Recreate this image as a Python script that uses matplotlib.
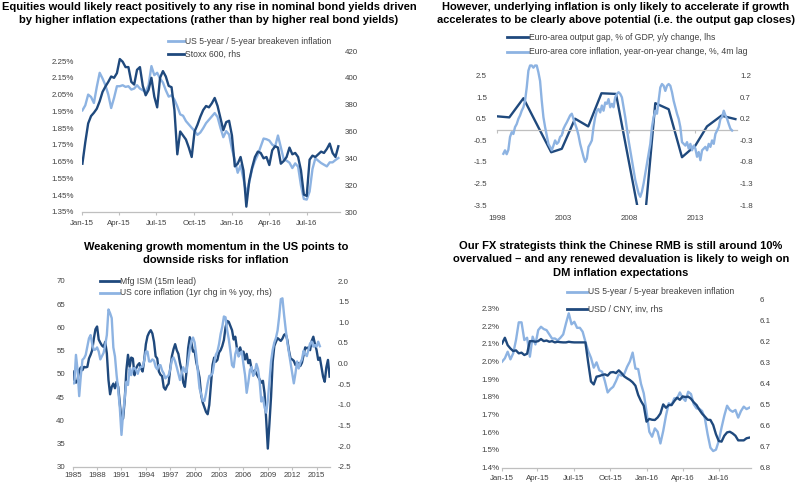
import numpy as np
import pandas as pd
import matplotlib

matplotlib.use("Agg")
import matplotlib.pyplot as plt
import matplotlib.dates as mdates
from matplotlib.lines import Line2D

# ---- data ----
# top-left: weekly, from 2 Jan 2015
stoxx600 = [336, 352, 366, 371.5, 374, 377, 382.5, 389.5, 393.5, 397,
            401, 400, 403.5, 414, 412, 408, 408, 397, 395, 406,
            408, 394, 387, 391, 400, 386, 378, 400, 405, 401,
            394, 393, 376, 343, 360, 357, 354, 348, 341, 360,
            365, 371, 376, 379, 378, 381, 385, 379, 370, 361,
            367, 368, 357, 334, 336, 341, 331, 304, 323, 333,
            341, 345, 344, 340, 341, 335, 346, 349, 348, 336,
            338, 341, 348, 343, 344, 341, 331, 313, 312, 339,
            342, 341, 343, 345, 344, 347, 351, 344, 341, 349]
us_5y5y_a = [1.956, 1.986, 2.05, 2.036, 2.0, 2.096, 2.18, 2.146, 2.106, 2.05,
             1.97, 2.03, 2.1, 2.1, 2.106, 2.096, 2.1, 2.08, 2.086, 2.106,
             2.086, 2.076, 2.066, 2.106, 2.22, 2.166, 2.18, 2.146, 2.122, 2.076,
             2.038, 2.046, 2.02, 1.98, 1.932, 1.924, 1.892, 1.872, 1.852, 1.834,
             1.81, 1.824, 1.85, 1.88, 1.9, 1.92, 1.94, 1.916, 1.852, 1.796,
             1.832, 1.812, 1.726, 1.66, 1.584, 1.628, 1.548, 1.46, 1.526, 1.606,
             1.656, 1.692, 1.74, 1.788, 1.784, 1.776, 1.752, 1.74, 1.806, 1.736,
             1.664, 1.656, 1.644, 1.612, 1.64, 1.62, 1.508, 1.428, 1.424, 1.472,
             1.606, 1.67, 1.656, 1.642, 1.632, 1.622, 1.646, 1.646, 1.66, 1.672]

# top-right: euro area
og_years = [1998.0, 1998.93, 2000.0, 2002.1, 2002.9, 2003.9, 2004.9, 2005.9, 2007.0,
            2009.06, 2009.97, 2010.98, 2011.99, 2013.0, 2013.88, 2014.97, 2016.03]
output_gap = [0.62, 0.57, 1.46, -1.05, -0.89, 0.51, 0.15, 1.69, 1.66,
              -5.0, 1.23, 0.95, -1.28, -0.74, 0.15, 0.65, 0.49]
ea_core = [-0.61, -0.53, -0.62, -0.52, -0.22, -0.11, -0.15, 0.01, 0.08, 0.2,
           0.28, 0.39, 0.47, 0.62, 0.93, 1.32, 1.44, 1.44, 1.39, 1.44,
           1.44, 1.28, 1.08, 0.62, 0.24, 0.01, -0.18, -0.38, -0.45, -0.53,
           -0.42, -0.3, -0.38, -0.34, -0.22, -0.18, -0.03, 0.05, 0.12, 0.2,
           0.28, 0.32, 0.2, 0.08, -0.03, -0.18, -0.38, -0.53, -0.68, -0.8,
           -0.72, -0.45, -0.38, -0.3, 0.01, 0.24, 0.39, 0.43, 0.35, 0.51,
           0.39, 0.58, 0.55, 0.66, 0.47, 0.55, 0.47, 0.7, 0.78, 0.82,
           0.78, 0.7, 0.47, 0.24, -0.03, -0.3, -0.53, -0.76, -0.99, -1.22,
           -1.38, -1.53, -1.61, -1.49, -1.3, -1.07, -0.84, -0.61, -0.38, 0.01,
           0.24, 0.39, 0.32, 0.62, 0.93, 1.01, 0.97, 0.85, 0.97, 1.01,
           0.97, 0.82, 0.62, 0.47, 0.32, 0.2, 0.01, -0.34, -0.38, -0.42,
           -0.34, -0.49, -0.38, -0.53, -0.42, -0.49, -0.68, -0.57, -0.76, -0.53,
           -0.49, -0.45, -0.53, -0.38, -0.45, -0.3, -0.38, -0.15, -0.07, 0.01,
           0.2, 0.24, 0.39, 0.28, 0.2, 0.08, -0.03, -0.07]
ea_core_start, ea_core_end = 1998.48, 2015.78

# bottom-left: US, every 0.2 years from 1985
mfg_ism = [50.5, 48.7, 48.1, 48.7, 50.8, 51.4, 50.8, 51.5, 51.4, 51.5,
           53.3, 54.1, 55.1, 57.6, 59.6, 60.2, 57.4, 56.7, 56.1, 55.8,
           56.9, 54.4, 48.7, 45.6, 47.2, 47.9, 46.9, 48.3, 47.2, 43.6,
           40.0, 40.4, 44.4, 50.8, 54.1, 51.5, 53.5, 53.3, 49.7, 51.2,
           51.9, 52.3, 51.2, 50.5, 53.0, 56.4, 58.1, 58.9, 59.4, 58.7,
           56.9, 53.8, 53.3, 50.5, 49.8, 49.5, 47.1, 46.6, 47.4, 47.9,
           51.2, 53.8, 55.3, 56.4, 55.1, 54.3, 52.3, 50.8, 48.1, 47.2,
           50.5, 55.5, 57.9, 56.7, 54.8, 55.0, 52.5, 51.0, 49.2, 45.4,
           43.8, 42.8, 41.8, 41.3, 43.3, 47.6, 51.9, 53.5, 52.6, 53.0,
           54.6, 55.1, 56.0, 57.3, 60.0, 61.4, 61.2, 60.3, 59.4, 57.4,
           58.0, 55.5, 54.8, 55.7, 54.4, 54.8, 53.1, 54.3, 52.3, 53.0,
           51.0, 50.1, 50.8, 50.0, 49.4, 48.8, 48.1, 48.5, 45.8, 40.2,
           33.9, 39.3, 45.1, 52.6, 56.0, 56.9, 57.7, 57.4, 57.1, 57.6,
           58.4, 58.6, 57.3, 55.0, 53.3, 53.1, 52.8, 51.9, 52.3, 52.3,
           51.7, 52.4, 54.1, 55.7, 55.5, 55.7, 55.1, 57.1, 58.0, 56.4,
           55.1, 53.0, 53.5, 51.5, 49.4, 48.3, 51.4, 53.0, 49.4]
us_core = [-0.48, -0.48, 0.21, -0.16, -0.79, -0.3, 0.09, 0.13, 0.21, 0.41,
           0.61, 0.69, 0.47, 0.33, 0.34, 0.39, 0.29, 0.1, 0.18, 0.26,
           0.45, 0.69, 1.31, 1.22, 1.1, 0.39, 0.17, -0.28, -0.64, -1.09,
           -1.73, -1.21, -0.84, -0.44, -0.52, -0.12, -0.28, -0.12, -0.11, -0.16,
           -0.25, -0.12, -0.08, -0.08, 0.07, 0.29, 0.29, 0.05, 0.05, 0.1,
           0.07, -0.08, -0.14, -0.04, -0.04, -0.17, -0.24, -0.36, -0.32, -0.28,
           -0.14, 0.09, 0.15, 0.05, -0.09, -0.24, -0.4, -0.24, -0.09, -0.2,
           -0.2, 0.07, 0.34, 0.55, 0.63, 0.51, 0.2, -0.2, -0.6, -0.74,
           -0.9, -0.91, -0.72, -0.48, -0.3, -0.29, -0.24, 0.0, 0.21, 0.29,
           0.47, 0.72, 0.89, 1.14, 1.12, 0.81, 0.59, 0.29, -0.04, -0.09,
           0.23, 0.37, 0.17, 0.25, 0.29, -0.01, -0.28, -0.71, -0.46, -0.16,
           -0.08, -0.3, -0.22, -0.01, -0.14, -0.44, -0.92, -0.82, -1.06, -1.19,
           -0.9, -0.44, 0.05, 0.33, 0.51, 0.62, 0.8, 1.14, 1.56, 1.58,
           1.18, 0.83, 0.51, 0.26, 0.0, -0.24, -0.48, -0.24, 0.05, -0.12,
           0.02, 0.1, 0.31, 0.23, 0.18, 0.34, 0.49, 0.53, 0.41, 0.45,
           0.41, 0.53, 0.42]

# bottom-right: weekly, from 2 Jan 2015
usd_cny = [6.209, 6.182, 6.217, 6.233, 6.245, 6.242, 6.256, 6.253, 6.264, 6.258,
           6.198, 6.198, 6.201, 6.198, 6.188, 6.198, 6.195, 6.201, 6.198, 6.204,
           6.201, 6.203, 6.204, 6.204, 6.201, 6.203, 6.204, 6.204, 6.204, 6.204,
           6.204, 6.30, 6.39, 6.404, 6.367, 6.364, 6.359, 6.356, 6.362, 6.347,
           6.345, 6.35, 6.337, 6.35, 6.366, 6.375, 6.383, 6.394, 6.41, 6.454,
           6.483, 6.505, 6.581, 6.568, 6.572, 6.573, 6.561, 6.542, 6.499, 6.515,
           6.502, 6.502, 6.483, 6.467, 6.477, 6.461, 6.464, 6.462, 6.472, 6.489,
           6.502, 6.524, 6.543, 6.557, 6.572, 6.573, 6.597, 6.641, 6.673, 6.676,
           6.648, 6.632, 6.629, 6.637, 6.648, 6.67, 6.67, 6.67, 6.66, 6.657]
us_5y5y_b = [1.999, 2.018, 2.055, 2.012, 2.046, 2.121, 2.221, 2.221, 2.121, 2.134,
             2.027, 2.14, 2.096, 2.177, 2.196, 2.183, 2.177, 2.153, 2.129, 2.13,
             2.119, 2.134, 2.153, 2.215, 2.272, 2.21, 2.224, 2.19, 2.19, 2.168,
             2.111, 2.059, 2.021, 1.965, 1.995, 1.95, 1.942, 1.889, 1.825, 1.844,
             1.857, 1.889, 1.927, 1.92, 1.93, 1.97, 2.0, 2.05, 1.96, 1.957,
             1.874, 1.82, 1.716, 1.603, 1.575, 1.622, 1.603, 1.537, 1.607, 1.694,
             1.764, 1.754, 1.792, 1.792, 1.825, 1.795, 1.777, 1.829, 1.816, 1.758,
             1.735, 1.733, 1.72, 1.679, 1.588, 1.513, 1.494, 1.502, 1.551, 1.626,
             1.694, 1.75, 1.726, 1.716, 1.726, 1.683, 1.72, 1.745, 1.731, 1.739]

quarter_ticks = pd.date_range("2015-01-01", "2016-07-01", freq="QS")

# ---- style ----
DARK = "#1F497D"
LIGHT = "#8DB3E2"
TXT = "#404040"
AXIS = "#BFBFBF"
LW = 1.7
TICK_FS = 5.7
LEG_FS = 6.2
W, H = 800, 483

plt.rcParams["font.family"] = ["Liberation Sans", "DejaVu Sans"]

fig = plt.figure(figsize=(8, 4.83), dpi=100)
fig.patch.set_facecolor("white")


def box(left, top, right, bottom):
    return [left / W, 1 - bottom / H, (right - left) / W, (bottom - top) / H]


def make_axes(rect, xpad, lpad, rpad):
    ax = fig.add_axes(rect)
    ax2 = ax.twinx()
    for a in (ax, ax2):
        for s in a.spines.values():
            s.set_visible(False)
    ax.spines["bottom"].set_visible(True)
    ax.spines["bottom"].set_color(AXIS)
    ax.spines["bottom"].set_linewidth(0.9)
    ax.tick_params(axis="x", direction="out", length=2.5, width=0.8, color=AXIS,
                   labelsize=TICK_FS, labelcolor=TXT, pad=xpad)
    ax.tick_params(axis="y", length=0, labelsize=TICK_FS, labelcolor=TXT, pad=lpad)
    ax2.tick_params(axis="y", length=0, labelsize=TICK_FS, labelcolor=TXT, pad=rpad)
    return ax, ax2


def title(x, y, lines):
    for i, line in enumerate(lines):
        fig.text(x / W, 1 - (y + i * 13.3) / H, line, ha="center", va="center",
                 fontsize=8, fontweight="bold", color="black")


def legend_entry(x0, x1, y, color, label):
    fig.add_artist(Line2D([x0 / W, x1 / W], [1 - y / H] * 2, color=color, lw=2.0,
                          transform=fig.transFigure))
    fig.text((x1 + 1) / W, 1 - y / H, label, ha="left", va="center",
             fontsize=LEG_FS, color=TXT)


# ---- top-left ----
dates_a = pd.date_range("2015-01-02", periods=len(stoxx600), freq="7D")
ax, ax2 = make_axes(box(82, 51, 340, 212), 3.5, 5.8, 3.6)
ax.plot(dates_a, us_5y5y_a, color=LIGHT, lw=LW)
ax2.plot(dates_a, stoxx600, color=DARK, lw=LW)
ax.set_xlim(pd.Timestamp("2015-01-01"), pd.Timestamp("2016-09-20"))
ax.set_ylim(1.35, 2.31)
ax.set_yticks(np.arange(1.35, 2.26, 0.10))
ax.yaxis.set_major_formatter(lambda v, p: f"{v:.2f}%")
ax2.set_ylim(300, 420)
ax2.set_yticks(range(300, 421, 20))
ax.set_xticks(quarter_ticks)
ax.xaxis.set_major_formatter(mdates.DateFormatter("%b-%y"))
title(209, 6.5, ["Equities would likely react positively to any rise in nominal bond yields driven",
                 "by higher inflation expectations (rather than by higher real bond yields)"])
legend_entry(168, 184, 41, LIGHT, "US 5-year / 5-year breakeven inflation")
legend_entry(168, 184, 54, DARK, "Stoxx 600, rhs")

# ---- top-right ----
ea_core_x = np.linspace(ea_core_start, ea_core_end, len(ea_core))
ax, ax2 = make_axes(box(497, 64, 737, 205), 59, 7.2, 2.2)
ax.spines["bottom"].set_position(("data", 0))
ax.plot(og_years, output_gap, color=DARK, lw=LW)
ax2.plot(ea_core_x, ea_core, color=LIGHT, lw=LW)
ax.set_xlim(1998, 2016.15)
ax.set_xticks([1998, 2003, 2008, 2013])
ax.set_ylim(-3.5, 3.05)
ax.set_yticks(np.arange(-3.5, 2.6, 1.0))
ax.yaxis.set_major_formatter(lambda v, p: f"{v:.1f}")
ax2.set_ylim(-1.8, 1.475)
ax2.set_yticks(np.arange(-1.8, 1.25, 0.5))
ax2.yaxis.set_major_formatter(lambda v, p: f"{v:.1f}")
title(616, 6.5, ["However, underlying inflation is only likely to accelerate if growth",
                 "accelerates to be clearly above potential (i.e. the output gap closes)"])
legend_entry(507, 528, 37, DARK, "Euro-area output gap, % of GDP, y/y change, lhs")
legend_entry(507, 528, 52, LIGHT, "Euro-area core inflation, year-on-year change, %, 4m lag")

# ---- bottom-left ----
ism_x = 1985 + 0.2 * np.arange(len(mfg_ism))
core_x = 1985 + 0.2 * np.arange(len(us_core))
ax, ax2 = make_axes(box(72.7, 281, 330, 466.7), 1.3, 5.5, 5.8)
ax.plot(ism_x, mfg_ism, color=DARK, lw=LW)
ax2.plot(core_x, us_core, color=LIGHT, lw=LW)
ax.set_xlim(1985, 2016.65)
ax.set_xticks(range(1985, 2016, 3))
ax.set_ylim(30, 70)
ax.set_yticks(range(30, 71, 5))
ax2.set_ylim(-2.5, 2.0)
ax2.set_yticks(np.arange(-2.5, 2.01, 0.5))
ax2.yaxis.set_major_formatter(lambda v, p: f"{v:.1f}")
title(216, 247, ["Weakening growth momentum in the US points to",
                 "downside risks for inflation"])
legend_entry(100, 119, 281, DARK, "Mfg ISM (15m lead)")
legend_entry(100, 119, 292.5, LIGHT, "US core inflation (1yr chg in % yoy, rhs)")

# ---- bottom-right ----
dates_b = pd.date_range("2015-01-02", periods=len(usd_cny), freq="7D")
ax, ax2 = make_axes(box(501.7, 299.5, 750.5, 467.7), 2.7, 1.5, 6.8)
ax.plot(dates_b, us_5y5y_b, color=LIGHT, lw=LW)
ax2.plot(dates_b, usd_cny, color=DARK, lw=LW)
ax.set_xlim(pd.Timestamp("2015-01-01"), pd.Timestamp("2016-09-19"))
ax.set_ylim(1.4, 2.35)
ax.set_yticks(np.arange(1.4, 2.31, 0.1))
ax.yaxis.set_major_formatter(lambda v, p: f"{v:.1f}%")
ax2.set_ylim(6.8, 6.0)
ax2.set_yticks(np.arange(6.0, 6.81, 0.1))
ax2.yaxis.set_major_formatter(lambda v, p: f"{v:g}" if v < 6.05 else f"{v:.1f}")
ax.set_xticks(quarter_ticks)
ax.xaxis.set_major_formatter(mdates.DateFormatter("%b-%y"))
title(621, 246, ["Our FX strategists think the Chinese RMB is still around 10%",
                 "overvalued \u2013 and any renewed devaluation is likely to weigh on",
                 "DM inflation expectations"])
legend_entry(567, 587, 292, LIGHT, "US 5-year / 5-year breakeven inflation")
legend_entry(567, 587, 309, DARK, "USD / CNY, inv, rhs")

fig.savefig("out.png", dpi=100, facecolor="white")
